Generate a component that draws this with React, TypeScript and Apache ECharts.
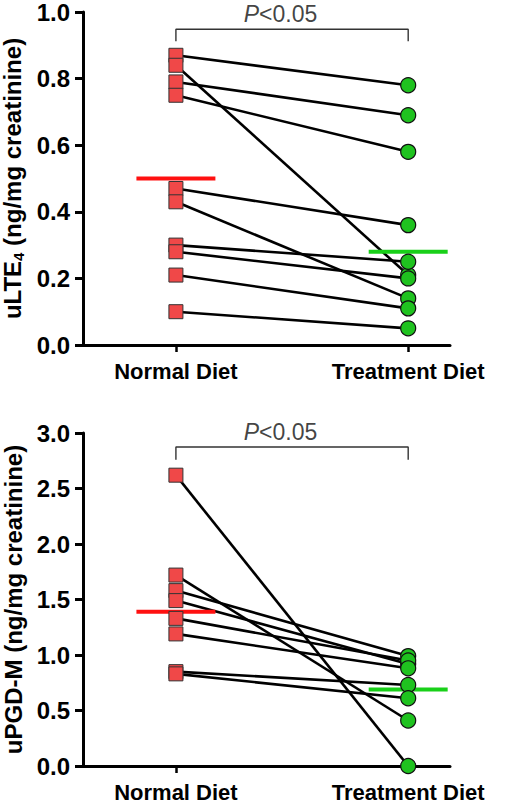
import React, { useEffect, useRef } from "react";
import * as echarts from "echarts";

const categories = ["Normal Diet", "Treatment Diet"];

// Top panel: uLTE4
const lteNormal = [0.87, 0.84, 0.79, 0.75, 0.47, 0.43, 0.3, 0.28, 0.21, 0.1];
const lteTreatment = [0.78, 0.21, 0.69, 0.58, 0.36, 0.14, 0.25, 0.2, 0.11, 0.05];
const lteMeans = [0.5, 0.28];
const lteTicks = { min: 0, max: 1.0, interval: 0.2, decimals: 1 };

// Bottom panel: uPGD-M
const pgdNormal = [2.62, 1.72, 1.58, 1.49, 1.33, 1.19, 0.85, 0.83];
const pgdTreatment = [0.0, 0.41, 0.99, 0.92, 0.95, 0.88, 0.73, 0.61];
const pgdMeans = [1.39, 0.69];
const pgdTicks = { min: 0, max: 3.0, interval: 0.5, decimals: 1 };

const pLabel = "P<0.05";
const FONT = "Liberation Sans, Arial, Helvetica, sans-serif";

function panelSeries(
  idx: number,
  normal: number[],
  treat: number[],
  means: number[],
  bracketTop: number,
  bracketBottom: number,
  textY: number
) {
  const s: any[] = [];
  normal.forEach((v, i) => {
    s.push({
      type: "line",
      xAxisIndex: idx,
      yAxisIndex: idx,
      data: [
        [1, v],
        [2, treat[i]],
      ],
      symbol: "none",
      lineStyle: { color: "#000", width: 2.6 },
      z: 2,
      silent: true,
    });
  });
  const hw = 0.17;
  const meanColors = ["#ff1010", "#19d019"];
  means.forEach((m, k) => {
    const cx = k + 1;
    s.push({
      type: "line",
      xAxisIndex: idx,
      yAxisIndex: idx,
      data: [
        [cx - hw, m],
        [cx + hw, m],
      ],
      symbol: "none",
      lineStyle: { color: meanColors[k], width: 4 },
      z: 3,
    });
  });
  s.push({
    type: "scatter",
    xAxisIndex: idx,
    yAxisIndex: idx,
    data: normal.map((v) => [1, v]),
    symbol: "rect",
    symbolSize: 14,
    itemStyle: { color: "#f04848", borderColor: "#333", borderWidth: 1, opacity: 1 },
    z: 4,
  });
  s.push({
    type: "scatter",
    xAxisIndex: idx,
    yAxisIndex: idx,
    data: treat.map((v) => [2, v]),
    symbol: "circle",
    symbolSize: 15,
    itemStyle: { color: "#1fc21f", borderColor: "#111", borderWidth: 1.2, opacity: 1 },
    z: 4,
  });
  // significance bracket
  s.push({
    type: "line",
    xAxisIndex: idx,
    yAxisIndex: idx,
    data: [
      [1, bracketBottom],
      [1, bracketTop],
      [2, bracketTop],
      [2, bracketBottom],
    ],
    symbol: "none",
    lineStyle: { color: "#333", width: 1.4 },
    z: 2,
  });
  s.push({
    type: "scatter",
    xAxisIndex: idx,
    yAxisIndex: idx,
    clip: false,
    data: [[1.45, textY]],
    symbolSize: 0,
    label: {
      show: true,
      position: "inside",
      formatter: "{i|P}{n|" + pLabel.slice(1) + "}",
      rich: {
        i: { fontStyle: "italic", fontSize: 23, color: "#111", fontFamily: FONT },
        n: { fontSize: 23, color: "#111", fontFamily: FONT },
      },
    },
    z: 5,
  });
  return s;
}

function yAxis(idx: number, ticks: any, name: string) {
  return {
    type: "value",
    gridIndex: idx,
    min: ticks.min,
    max: ticks.max,
    interval: ticks.interval,
    splitLine: { show: false },
    axisLine: { show: true, lineStyle: { color: "#000", width: 3 } },
    axisTick: { show: true, length: 8, lineStyle: { color: "#000", width: 3 } },
    axisLabel: {
      formatter: (v: number) => v.toFixed(ticks.decimals),
      fontSize: 24,
      fontWeight: "bold",
      color: "#000",
      fontFamily: FONT,
      margin: 13,
    },
    name,
    nameLocation: "middle",
    nameGap: 50,
    nameRotate: 90,
    nameTextStyle: {
      fontSize: 24,
      fontWeight: "bold",
      color: "#000",
      fontFamily: FONT,
      rich: {
        a: { fontSize: 24, fontWeight: "bold", color: "#000", fontFamily: FONT },
        s: {
          fontSize: 15,
          fontWeight: "bold",
          color: "#000",
          fontFamily: FONT,
          verticalAlign: "bottom",
          padding: [11, 0, 0, 0],
        },
      },
    },
  };
}

function xAxis(idx: number) {
  return {
    type: "value",
    gridIndex: idx,
    min: 0.6,
    max: 2.18,
    splitLine: { show: false },
    axisLine: { show: true, lineStyle: { color: "#000", width: 3 } },
    axisTick: {
      show: true,
      length: 7,
      customValues: [1, 2],
      lineStyle: { color: "#000", width: 2.5 },
    },
    axisLabel: {
      customValues: [1, 2],
      formatter: (v: number) => categories[Math.round(v) - 1] ?? "",
      fontSize: 22,
      fontWeight: "bold",
      color: "#000",
      fontFamily: FONT,
      margin: 15,
    },
  };
}

export default function App() {
  const ref = useRef<HTMLDivElement>(null);
  useEffect(() => {
    if (!ref.current) return;
    const chart = echarts.init(ref.current, null, { renderer: "svg" });
    chart.setOption({
      animation: false,
      backgroundColor: "#fff",
      grid: [
        { left: 83, top: 12, width: 367, height: 333, outerBoundsMode: "none", containLabel: false },
        { left: 83, top: 433, width: 367, height: 333, outerBoundsMode: "none", containLabel: false },
      ],
      xAxis: [xAxis(0), xAxis(1)],
      yAxis: [
        yAxis(0, lteTicks, "{a|uLTE}{s|4}{a| (ng/mg creatinine)}"),
        yAxis(1, pgdTicks, "{a|uPGD-M (ng/mg creatinine)}"),
      ],
      series: [
        ...panelSeries(0, lteNormal, lteTreatment, lteMeans, 0.948, 0.912, 0.993),
        ...panelSeries(1, pgdNormal, pgdTreatment, pgdMeans, 2.874, 2.76, 3.005),
      ],
    });
    return () => chart.dispose();
  }, []);
  return (
    <div
      ref={ref}
      style={{ position: "absolute", left: 0, top: 0, width: 506, height: 806 }}
    />
  );
}
